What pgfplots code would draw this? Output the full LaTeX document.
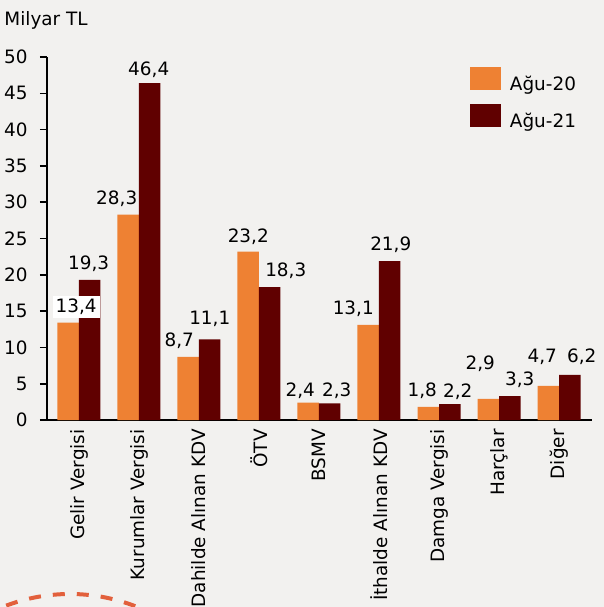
\documentclass[border=0pt]{standalone}
\usepackage{fontspec}
\setmainfont{DejaVu Sans}
\usepackage{pgfplots}
\pgfplotsset{compat=1.18}
\usepackage{pgfplotstable}

\definecolor{bgc}{HTML}{F2F1EF}
\definecolor{orng}{HTML}{EE8133}
\definecolor{drk}{HTML}{600000}
\definecolor{arcc}{HTML}{E2603C}
\newcommand\f{\fontsize{9.2pt}{11pt}\selectfont}

\pgfplotstableread{
x y dx dy bg
0 13.4 8 10 1
1 28.3 -11.5 10 0
2 8.7 -9 10 0
3 23.2 0 9 0
4 2.4 -8 6 0
5 13.1 -15 10 0
6 1.8 -6 10 0
7 2.9 -8 29 0
8 4.7 -6 23 0
}\aguA

\pgfplotstableread{
x y dx dy
0 19.3 -1 10
1 46.4 -1 8
2 11.1 0 15
3 18.3 16 10.6
4 2.3 7 7
5 21.9 1 11
6 2.2 8 7
7 3.3 10 11
8 6.2 12 12
}\aguB

\begin{document}
\begin{tikzpicture}
\useasboundingbox (-23.5pt,-93.5pt) rectangle (278.5pt,210pt);
\clip (-23.5pt,-93.5pt) rectangle (278.5pt,210pt);
\fill[bgc] (-23.5pt,-93.5pt) rectangle (278.5pt,210pt);
\draw[arcc, line width=2pt, dash pattern=on 6pt off 6pt] (11.5pt,-177pt) circle (90pt);
\begin{axis}[
  at={(0,0)}, anchor=south west, scale only axis,
  width=272.5pt, height=181.5pt,
  ybar=0pt, bar width=10.75pt,
  xmin=-0.533, xmax=8.55, ymin=0, ymax=50,
  axis x line*=bottom, axis y line*=left,
  axis line style={black, line width=0.8pt},
  ytick={0,5,...,50}, tick align=outside, major tick length=3.5pt,
  ytick style={black, line width=0.8pt},
  xtick={0,...,8}, xtick style={draw=none},
  xticklabels={Gelir Vergisi, Kurumlar Vergisi, Dahilde Alınan KDV, ÖTV, BSMV, İthalde Alınan KDV, Damga Vergisi, Harçlar, Diğer},
  xticklabel style={rotate=90, anchor=east, font=\f, inner xsep=1pt},
  yticklabel style={font=\f, inner xsep=6pt},
  /pgf/number format/assume math mode=true,
  legend cell align=left,
  legend style={at={(rel axis cs:0.7761,0.9725)}, anchor=north west, draw=none, fill=none,
    inner sep=0pt, outer sep=0pt, row sep=5pt, column sep=4.5pt, font=\f,
    nodes={inner sep=0pt}},
]
\addplot[fill=orng, draw=none,
  legend image code/.code={\fill[orng] (0pt,-2.5pt) rectangle (15.5pt,9pt);},
  visualization depends on={\thisrow{dx} \as \dx},
  visualization depends on={\thisrow{dy} \as \dy},
  visualization depends on={\thisrow{bg} \as \myfill},
  nodes near coords={\pgfmathprintnumber[fixed,fixed zerofill,precision=1,use comma]{\pgfplotspointmeta}},
  every node near coord/.append style={anchor=base, font=\f, text=black,
    xshift={\dx*0.5pt}, yshift={\dy*0.5pt}, fill=white, fill opacity=\myfill, text opacity=1, inner sep=1.5pt}
] table[x=x,y=y] {\aguA};
\addplot[fill=drk, draw=none,
  legend image code/.code={\fill[drk] (0pt,-2.5pt) rectangle (15.5pt,9pt);},
  visualization depends on={\thisrow{dx} \as \dx},
  visualization depends on={\thisrow{dy} \as \dy},
  nodes near coords={\pgfmathprintnumber[fixed,fixed zerofill,precision=1,use comma]{\pgfplotspointmeta}},
  every node near coord/.append style={anchor=base, font=\f, text=black,
    xshift={\dx*0.5pt}, yshift={\dy*0.5pt}, inner sep=1.5pt}
] table[x=x,y=y] {\aguB};
\legend{Ağu-20, Ağu-21}
\end{axis}
\node[anchor=base west, font=\f, inner sep=0pt] at (-21.5pt,197.5pt) {Milyar TL};
\end{tikzpicture}
\end{document}
